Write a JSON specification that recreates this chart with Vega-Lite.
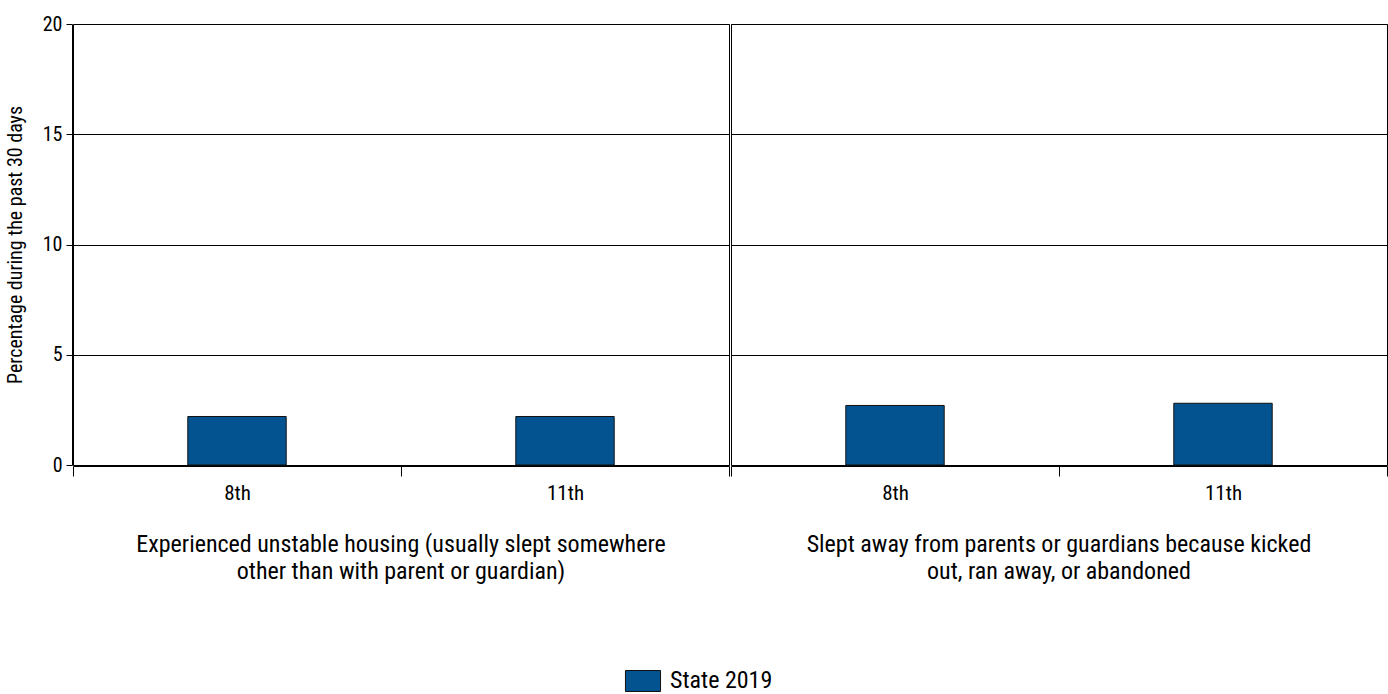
{
  "$schema": "https://vega.github.io/schema/vega-lite/v6.json",
  "padding": {"left": 5, "top": 14, "right": 0, "bottom": 0},
  "background": "white",
  "data": {
    "values": [
      {"group": "A", "grade": "8th", "value": 2.2, "series": "State 2019"},
      {"group": "A", "grade": "11th", "value": 2.2, "series": "State 2019"},
      {"group": "B", "grade": "8th", "value": 2.7, "series": "State 2019"},
      {"group": "B", "grade": "11th", "value": 2.8, "series": "State 2019"}
    ]
  },
  "facet": {
    "column": {
      "field": "group",
      "type": "nominal",
      "title": null,
      "header": {
        "labelOrient": "bottom",
        "labelExpr": "datum.value == 'A' ? ['Experienced unstable housing (usually slept somewhere', 'other than with parent or guardian)'] : ['Slept away from parents or guardians because kicked', 'out, ran away, or abandoned']",
        "labelFont": "Liberation Sans Narrow, Roboto Condensed, DejaVu Sans Condensed, sans-serif",
        "labelFontSize": 24,
        "labelLineHeight": 27,
        "labelColor": "#000000",
        "labelPadding": 30,
        "labelBaseline": "top"
      }
    }
  },
  "spacing": 0,
  "spec": {
    "width": 656,
    "height": 441,
    "mark": {"type": "bar", "fill": "#02538f", "stroke": "#111111", "strokeWidth": 1, "width": {"band": 0.3}},
    "encoding": {
      "x": {
        "field": "grade",
        "type": "nominal",
        "sort": ["8th", "11th"],
        "scale": {"paddingInner": 0, "paddingOuter": 0},
        "axis": {
          "title": null,
          "labelAngle": 0,
          "tickBand": "extent",
          "tickSize": 10,
          "tickColor": "#000000",
          "domainColor": "#000000",
          "labelFont": "Liberation Sans Narrow, Roboto Condensed, DejaVu Sans Condensed, sans-serif",
          "labelFontSize": 21,
          "labelColor": "#000000",
          "labelPadding": 6
        }
      },
      "y": {
        "field": "value",
        "type": "quantitative",
        "scale": {"domain": [0, 20]},
        "axis": {
          "title": "Percentage during the past 30 days",
          "values": [0, 5, 10, 15, 20],
          "grid": true,
          "gridColor": "#000000",
          "gridOpacity": 1,
          "tickSize": 6,
          "tickColor": "#000000",
          "domainColor": "#000000",
          "labelFont": "Liberation Sans Narrow, Roboto Condensed, DejaVu Sans Condensed, sans-serif",
          "labelFontSize": 20,
          "labelColor": "#000000",
          "labelPadding": 4,
          "titleFont": "Liberation Sans Narrow, Roboto Condensed, DejaVu Sans Condensed, sans-serif",
          "titleFontSize": 20,
          "titleFontWeight": "normal",
          "titleColor": "#000000",
          "titlePadding": 17
        }
      },
      "fill": {
        "field": "series",
        "type": "nominal",
        "scale": {"range": ["#02538f"]},
        "legend": {
          "title": null,
          "orient": "none",
          "legendX": 558,
          "legendY": 645,
          "direction": "horizontal",
          "symbolType": "M-1.67,-1L1.67,-1L1.67,1L-1.67,1Z",
          "symbolSize": 441,
          "symbolStrokeColor": "#111111",
          "symbolStrokeWidth": 1,
          "symbolOpacity": 1,
          "labelFont": "Liberation Sans Narrow, Roboto Condensed, DejaVu Sans Condensed, sans-serif",
          "labelFontSize": 24,
          "labelColor": "#000000",
          "labelOffset": 15
        }
      }
    }
  },
  "config": {
    "view": {"stroke": "#000000", "strokeWidth": 1}
  }
}
